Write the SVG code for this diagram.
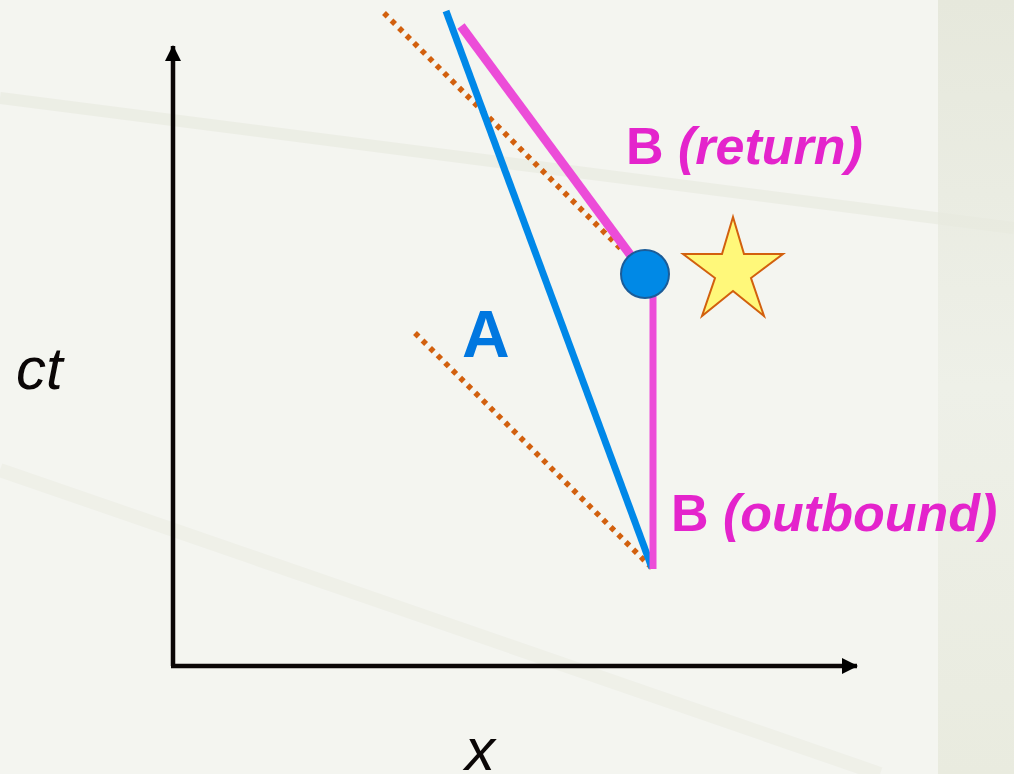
<svg xmlns="http://www.w3.org/2000/svg" width="1014" height="774" viewBox="0 0 1014 774">
  <defs>
    <linearGradient id="strip" x1="0" y1="0" x2="0" y2="1">
      <stop offset="0" stop-color="#e6e8dc"/>
      <stop offset="0.5" stop-color="#eef0e8"/>
      <stop offset="1" stop-color="#e9ebdf"/>
    </linearGradient>
    <marker id="arrow" viewBox="0 0 16 16" refX="15" refY="8" markerWidth="16" markerHeight="16" markerUnits="userSpaceOnUse" orient="auto">
      <path d="M0,0 L16,8 L0,16 Z" fill="#000"/>
    </marker>
  </defs>
  <style>
    .axis { stroke: #0a0606; stroke-width: 4.5; fill: none; }
    .dotted { stroke: #d2600e; stroke-width: 5.5; stroke-dasharray: 5 5.6; fill: none; }
    .lbl { font-family: "Liberation Sans", Arial, sans-serif; }
    .mag { fill: #e424cc; font-weight: bold; font-size: 52px; }
    .axlbl { fill: #0a0606; font-style: italic; }
  </style>

  <!-- background -->
  <rect x="0" y="0" width="1014" height="774" fill="#f4f5f0"/>
  <rect x="938" y="0" width="76" height="774" fill="url(#strip)"/>
  <path d="M0,98 L1014,228" stroke="#e8eadf" stroke-width="12" opacity="0.6"/>
  <path d="M0,470 L880,774" stroke="#ecede4" stroke-width="14" opacity="0.6"/>

  <!-- axes -->
  <g id="axes">
    <line class="axis" x1="173" y1="666" x2="173" y2="46" marker-end="url(#arrow)"/>
    <line class="axis" x1="171" y1="666" x2="857" y2="666" marker-end="url(#arrow)"/>
  </g>

  <!-- connectors / world lines -->
  <g id="connectors">
    <line class="dotted" x1="384" y1="13" x2="622" y2="250"/>
    <line class="dotted" x1="415" y1="333" x2="652" y2="568"/>
    <line x1="446" y1="11" x2="652" y2="568" stroke="#0088e8" stroke-width="7"/>
    <line x1="461" y1="26" x2="640" y2="268" stroke="#ec4cd8" stroke-width="9"/>
    <line x1="653" y1="290" x2="653" y2="569" stroke="#ec4cd8" stroke-width="7"/>
  </g>

  <g id="event">
    <circle cx="645" cy="274" r="24" fill="#0089e6" stroke="#1b5c98" stroke-width="2"/>
  </g>

  <g id="star">
    <polygon points="733,217 744,254 783,254 751,278 764,316 733,291 702,316 715,278 683,254 722,254" fill="#fff87a" stroke="#d2600e" stroke-width="2"/>
  </g>

  <!-- labels -->
  <g id="label-return">
    <text class="lbl mag" x="626" y="164">B <tspan font-style="italic">(return)</tspan></text>
  </g>
  <g id="label-outbound">
    <text class="lbl mag" x="671" y="531">B <tspan font-style="italic">(outbound)</tspan></text>
  </g>
  <g id="label-A">
    <text class="lbl" x="462" y="357" font-size="66" font-weight="bold" fill="#0077e0">A</text>
  </g>
  <g id="label-ct">
    <text class="lbl axlbl" x="16" y="389" font-size="60">ct</text>
  </g>
  <g id="label-x">
    <text class="lbl axlbl" x="465" y="770" font-size="60">x</text>
  </g>
</svg>
